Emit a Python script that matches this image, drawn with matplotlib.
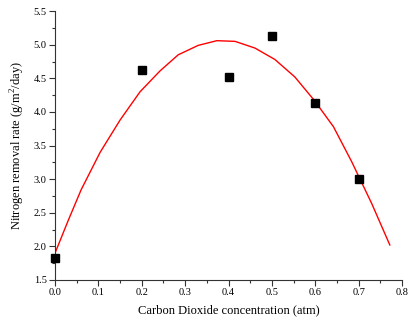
import matplotlib.pyplot as plt
from matplotlib.ticker import MultipleLocator

plt.rcParams['font.family'] = ['Liberation Serif', 'DejaVu Serif']
plt.rcParams['mathtext.fontset'] = 'custom'
plt.rcParams['mathtext.rm'] = 'Liberation Serif'

# measured data points
co2 = [0.0, 0.2, 0.4, 0.5, 0.6, 0.7]
n_rate = [1.82, 4.63, 4.52, 5.13, 4.14, 3.00]

# fitted curve
fit_x = [0.0, 0.03, 0.06, 0.104, 0.15, 0.196, 0.242, 0.284, 0.330, 0.373,
         0.415, 0.461, 0.507, 0.553, 0.598, 0.642, 0.684, 0.730, 0.772]
fit_y = [1.90, 2.38, 2.84, 3.40, 3.88, 4.30, 4.61, 4.85, 4.99, 5.06,
         5.05, 4.95, 4.78, 4.52, 4.17, 3.78, 3.26, 2.64, 2.02]

fig = plt.figure(figsize=(4.11, 3.27), dpi=100)
ax = fig.add_axes([0.134, 0.144, 0.844, 0.822])

ax.plot(fit_x, fit_y, color='red', lw=1.0, zorder=2)
ax.plot(co2, n_rate, 's', color='black', ms=5.3, zorder=3, clip_on=False)

ax.set_xlim(0, 0.8)
ax.set_ylim(1.5, 5.5)
ax.xaxis.set_major_locator(MultipleLocator(0.1))
ax.xaxis.set_minor_locator(MultipleLocator(0.05))
ax.yaxis.set_major_locator(MultipleLocator(0.5))
ax.yaxis.set_minor_locator(MultipleLocator(0.25))
ax.xaxis.set_major_formatter(plt.FormatStrFormatter('%.1f'))
ax.yaxis.set_major_formatter(plt.FormatStrFormatter('%.1f'))

for s in ['top', 'right']:
    ax.spines[s].set_visible(False)
for s in ['left', 'bottom']:
    ax.spines[s].set_color('#333333')
    ax.spines[s].set_linewidth(0.8)

ax.tick_params(which='major', direction='out', length=4, width=0.8,
               color='#333333', labelsize=7.5, pad=2)
ax.tick_params(which='minor', direction='out', length=2.5, width=0.8,
               color='#333333')

ax.set_xlabel('Carbon Dioxide concentration (atm)', fontsize=9, labelpad=5)
ax.set_ylabel('Nitrogen removal rate (g/m$^2$/day)', fontsize=9, labelpad=5)

fig.savefig('out.png', dpi=100)
